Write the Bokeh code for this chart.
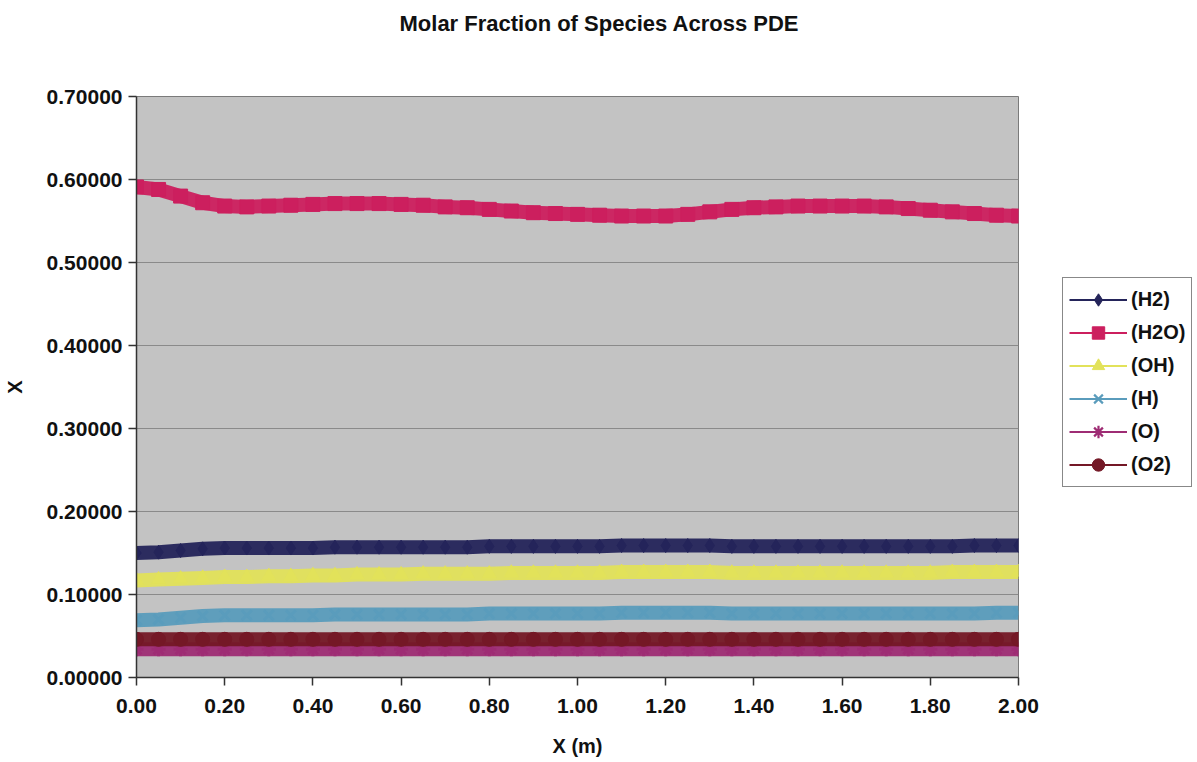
from bokeh.plotting import figure
from bokeh.layouts import row
from bokeh.models import (Legend, LegendItem, FixedTicker, PrintfTickFormatter,
                          ColumnDataSource, Title)
from bokeh.embed import file_html
from bokeh.resources import INLINE

# Axial position along the detonation engine (m)
x_pos = [round(0.05 * i, 2) for i in range(41)]

h2 = [0.150, 0.151, 0.153, 0.155, 0.156, 0.156, 0.156, 0.156, 0.156, 0.157,
      0.157, 0.157, 0.157, 0.157, 0.157, 0.157, 0.158, 0.158, 0.158, 0.158,
      0.158, 0.158, 0.159, 0.159, 0.159, 0.159, 0.159, 0.158, 0.158, 0.158,
      0.158, 0.158, 0.158, 0.158, 0.158, 0.158, 0.158, 0.158, 0.159, 0.159,
      0.159]
h2o = [0.591, 0.588, 0.580, 0.572, 0.568, 0.567, 0.568, 0.569, 0.570, 0.571,
       0.571, 0.571, 0.570, 0.569, 0.567, 0.566, 0.564, 0.562, 0.560, 0.559,
       0.558, 0.557, 0.556, 0.556, 0.556, 0.558, 0.561, 0.564, 0.566, 0.567,
       0.568, 0.568, 0.568, 0.568, 0.567, 0.565, 0.563, 0.561, 0.559, 0.557,
       0.556]
oh = [0.117, 0.118, 0.119, 0.120, 0.121, 0.121, 0.122, 0.122, 0.123, 0.123,
      0.124, 0.124, 0.124, 0.125, 0.125, 0.125, 0.125, 0.126, 0.126, 0.126,
      0.126, 0.126, 0.127, 0.127, 0.127, 0.127, 0.127, 0.126, 0.126, 0.126,
      0.126, 0.126, 0.126, 0.126, 0.126, 0.126, 0.126, 0.127, 0.127, 0.127,
      0.127]
h = [0.069, 0.070, 0.072, 0.074, 0.075, 0.075, 0.075, 0.075, 0.075, 0.076,
     0.076, 0.076, 0.076, 0.076, 0.076, 0.076, 0.077, 0.077, 0.077, 0.077,
     0.077, 0.077, 0.078, 0.078, 0.078, 0.078, 0.078, 0.077, 0.077, 0.077,
     0.077, 0.077, 0.077, 0.077, 0.077, 0.077, 0.077, 0.077, 0.077, 0.078,
     0.078]
o = [0.034, 0.034, 0.034, 0.034, 0.034, 0.034, 0.034, 0.034, 0.034, 0.034,
     0.034, 0.034, 0.034, 0.034, 0.034, 0.034, 0.034, 0.034, 0.034, 0.034,
     0.034, 0.034, 0.034, 0.034, 0.034, 0.034, 0.034, 0.034, 0.034, 0.034,
     0.034, 0.034, 0.034, 0.034, 0.034, 0.034, 0.034, 0.034, 0.034, 0.034,
     0.034]
o2 = [0.046, 0.046, 0.046, 0.046, 0.046, 0.046, 0.046, 0.046, 0.046, 0.046,
      0.046, 0.046, 0.046, 0.046, 0.046, 0.046, 0.046, 0.046, 0.046, 0.046,
      0.046, 0.046, 0.046, 0.046, 0.046, 0.046, 0.046, 0.046, 0.046, 0.046,
      0.046, 0.046, 0.046, 0.046, 0.046, 0.046, 0.046, 0.046, 0.046, 0.046,
      0.046]

series_names = ["(H2)", "(H2O)", "(OH)", "(H)", "(O)", "(O2)"]
series_values = [h2, h2o, oh, h, o, o2]
series_colors = ["#24245a", "#cc1f5e", "#e2e25a", "#5a9cbc", "#9e2c74", "#741826"]
series_markers = ["diamond", "square", "triangle", "x", "asterisk", "circle"]

x_ticks = [0.0, 0.2, 0.4, 0.6, 0.8, 1.0, 1.2, 1.4, 1.6, 1.8, 2.0]
y_ticks = [0.0, 0.1, 0.2, 0.3, 0.4, 0.5, 0.6, 0.7]

FONT = "Liberation Sans"
H = 762

p = figure(width=1040, height=H, output_backend="svg", toolbar_location=None,
           x_range=(0, 2.0), y_range=(0, 0.70),
           min_border_left=136, min_border_top=96, min_border_bottom=85,
           min_border_right=22)
p.background_fill_color = "#c3c3c3"
p.border_fill_color = "white"
p.outline_line_color = "#7a7a7a"
p.outline_line_width = 1

# blank spacer between the frame and the chart title
spacer = Title(text=" ", text_font=FONT, text_font_size="10px", standoff=48)
p.add_layout(spacer, "above")
title = Title(text="Molar Fraction of Species Across PDE", align="left",
              text_font=FONT, text_font_size="22px", text_font_style="bold",
              text_color="#111111", standoff=0, offset=263)
p.add_layout(title, "above")

p.xgrid.grid_line_color = None
p.ygrid.grid_line_color = "#8a8a8a"
p.ygrid.grid_line_width = 1

for ax in (p.xaxis, p.yaxis):
    ax.axis_line_color = "#333333"
    ax.axis_line_width = 1.5
    ax.major_tick_line_color = "#333333"
    ax.major_tick_line_width = 1.5
    ax.major_tick_out = 8
    ax.major_tick_in = 0
    ax.minor_tick_line_color = None
    ax.major_label_text_font = FONT
    ax.major_label_text_font_size = "21px"
    ax.major_label_text_font_style = "bold"
    ax.major_label_text_color = "#111111"
    ax.axis_label_text_font = FONT
    ax.axis_label_text_font_size = "20px"
    ax.axis_label_text_font_style = "bold"
    ax.axis_label_text_color = "#111111"

p.xaxis.ticker = FixedTicker(ticks=x_ticks)
p.xaxis.formatter = PrintfTickFormatter(format="%.2f")
p.xaxis.axis_label = "X (m)"
p.xaxis.major_label_standoff = 13
p.xaxis.axis_label_standoff = 19

p.yaxis.ticker = FixedTicker(ticks=y_ticks)
p.yaxis.formatter = PrintfTickFormatter(format="%.5f")
p.yaxis.axis_label = "X"
p.yaxis.major_label_standoff = 6
p.yaxis.axis_label_standoff = 18

for vals, col, mk in zip(series_values, series_colors, series_markers):
    src = ColumnDataSource(dict(x=x_pos, y=vals))
    p.line("x", "y", source=src, line_color=col, line_width=14, line_alpha=0.95)
    if mk in ("x", "asterisk"):
        p.scatter("x", "y", source=src, marker=mk, size=14, line_color=col,
                  line_width=3)
    else:
        p.scatter("x", "y", source=src, marker=mk, size=14, fill_color=col,
                  line_color=col)

# Legend panel to the right of the chart
lp = figure(width=157, height=H, output_backend="svg", toolbar_location=None,
            x_axis_type=None, y_axis_type=None, x_range=(0, 1), y_range=(0, 1),
            min_border=0)
lp.grid.visible = False
lp.outline_line_color = None
lp.background_fill_color = "white"
lp.border_fill_color = "white"

nan = float("nan")
items = []
for name, col, mk in zip(series_names, series_colors, series_markers):
    proxy = ColumnDataSource(dict(x=[nan], y=[nan]))
    lr = lp.line("x", "y", source=proxy, line_color=col, line_width=2)
    if mk in ("x", "asterisk"):
        sr = lp.scatter("x", "y", source=proxy, marker=mk, size=14,
                        line_color=col, line_width=2.2)
    else:
        sr = lp.scatter("x", "y", source=proxy, marker=mk, size=13,
                        fill_color=col, line_color=col)
    items.append(LegendItem(label=name, renderers=[lr, sr]))

legend = Legend(items=items, location=(22, 190), orientation="vertical",
                label_text_font=FONT, label_text_font_size="20px",
                label_text_font_style="bold", label_text_color="#111111",
                glyph_width=58, glyph_height=31, label_standoff=4,
                spacing=2, padding=6, margin=0,
                border_line_color="#111111", border_line_width=1.2,
                background_fill_color="white", background_fill_alpha=1.0)
lp.add_layout(legend, "center")

layout = row(p, lp, spacing=0)
open("out.html", "w").write(file_html(layout, INLINE))
